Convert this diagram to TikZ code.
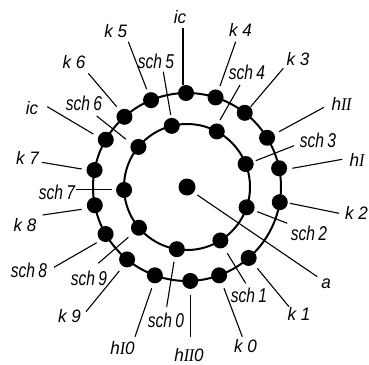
\documentclass[tikz,border=0pt]{standalone}
\usepackage{fontspec}
\newfontfamily\labf[FakeStretch=0.78]{Liberation Sans}
\newfontfamily\labk[FakeStretch=0.95]{Liberation Sans}
\newfontfamily\romf[FakeStretch=0.9]{Liberation Serif}
\newcommand\RomI{{\romf\itshape I}}
\newcommand\RomII{{\romf\itshape I\kern-0.5pt I}}
\tikzset{
  dot/.style={circle, fill=black, inner sep=0pt, minimum size=16pt},
  cdot/.style={circle, fill=black, inner sep=0pt, minimum size=17pt},
  ring/.style={line width=2pt},
  leader/.style={line width=1.1pt},
  lbl/.style={font=\labf\itshape\fontsize{20}{20}\selectfont, inner sep=0pt},
  klbl/.style={font=\labk\itshape\fontsize{18}{18}\selectfont, inner sep=0pt},
  hlbl/.style={font=\labk\itshape\fontsize{18}{18}\selectfont, inner sep=0pt}
}
\begin{document}
\begin{tikzpicture}[x=1pt,y=-1pt]
\useasboundingbox (0,0) rectangle (369,364);
\coordinate (C) at (187,187);
\draw[ring] (C) circle[radius=94pt];
\draw[ring] (C) circle[radius=63pt];
% outer ring dots (screen angles, clockwise)
\foreach \n/\a in {ico/-90.6, k4/-72.3, k3/-52.1, hII/-31.6, hI/-11.5, k2/9.3,
  k1/49, k0/70, hIIo/88, hIo/110, k9/129.6, scho/150, k8/168.8, k7/-169.6,
  icl/-149.8, k6/-131.7, k5/-112.5}
  \node[dot] (d-\n) at ([shift={(\a:94)}]C) {};
% inner ring dots
\foreach \n/\a in {s5/-104, s4/-61.8, s3/-21.4, s2/18.8, s1/58, s0/99.3,
  s9/139.7, s7/177.3, s6/-140.5}
  \node[dot] (d-\n) at ([shift={(\a:63)}]C) {};
\node[cdot] (d-a) at (C) {};
% leader lines
\foreach \n/\x/\y/\u/\v in {
  ico/183/28/183/85, k5/128.3/41.7/146.7/89.3, s5/163.3/71.7/170.7/115,
  k6/88.3/73.3/116.7/106.7, icl/47.3/106.7/93.3/134, s6/96.7/116/126/139.3,
  k7/41.7/162.3/81.7/169, s7/76/189.3/111.7/189.3, k8/42.7/215/81.7/209.3,
  scho/54/267.3/96.7/242.7, s9/98.3/263.3/128.3/237.3, k9/86/311.7/119.3/271,
  hIo/135/336.7/151.7/288.3, s0/166.7/306.7/174/261.7, hIIo/190.7/336.7/190.7/295,
  k0/242.3/336.7/224/288.3, s1/245.7/283.3/227.3/253.3, k1/289/306.7/257.3/268.3,
  a/317.3/276.7/197.3/195, s2/287.3/223.3/257.3/211.7, k2/339/213.3/290/203.3,
  hI/342.3/159.3/292.3/168.3, s3/294/145.7/255.7/160.7, hII/324/107.3/279/131.7,
  k3/283.3/68.3/250.7/106.7, s4/240/85/220/120, k4/235.7/41.7/220/86}
{
  \coordinate (l-\n) at (\x,\y);
  \coordinate (e-\n) at (\u,\v);
  \draw[leader] (l-\n) -- (e-\n);
}
% labels
\node[klbl] (t-ico) at (180,17) {ic};
\node[klbl] (t-k5) at (115.7,31) {k 5};
\node[lbl] (t-s5) at (156,61) {sch\,5};
\node[klbl] (t-k6) at (74,62) {k 6};
\node[klbl] (t-icl) at (32,108.5) {ic};
\node[lbl] (t-s6) at (84,103.5) {sch\,6};
\node[klbl] (t-k7) at (27.5,157.5) {k 7};
\node[lbl] (t-s7) at (57,192) {sch\,7};
\node[klbl] (t-k8) at (25,225) {k 8};
\node[lbl] (t-scho) at (29,270.5) {sch\,8};
\node[lbl] (t-s9) at (89,278.5) {sch\,9};
\node[klbl] (t-k9) at (69.5,316.5) {k 9};
\node[hlbl] (t-hIo) at (122.5,348.5) {h\RomI0};
\node[lbl] (t-s0) at (166,320) {sch\,0};
\node[hlbl] (t-hIIo) at (189,355) {h\RomII0};
\node[klbl] (t-k0) at (245.5,346) {k 0};
\node[lbl] (t-s1) at (249,295.5) {sch\,1};
\node[klbl] (t-k1) at (299,313.5) {k 1};
\node[klbl] (t-a) at (326,283.5) {a};
\node[lbl] (t-s2) at (309,233.5) {sch\,2};
\node[klbl] (t-k2) at (356.5,212.5) {k 2};
\node[hlbl] (t-hI) at (357,159.5) {h\RomI};
\node[lbl] (t-s3) at (318,140.5) {sch\,3};
\node[hlbl] (t-hII) at (341.5,103.5) {h\RomII};
\node[klbl] (t-k3) at (298,59.5) {k 3};
\node[lbl] (t-s4) at (247,72.5) {sch\,4};
\node[klbl] (t-k4) at (240.5,30) {k 4};
\end{tikzpicture}
\end{document}
